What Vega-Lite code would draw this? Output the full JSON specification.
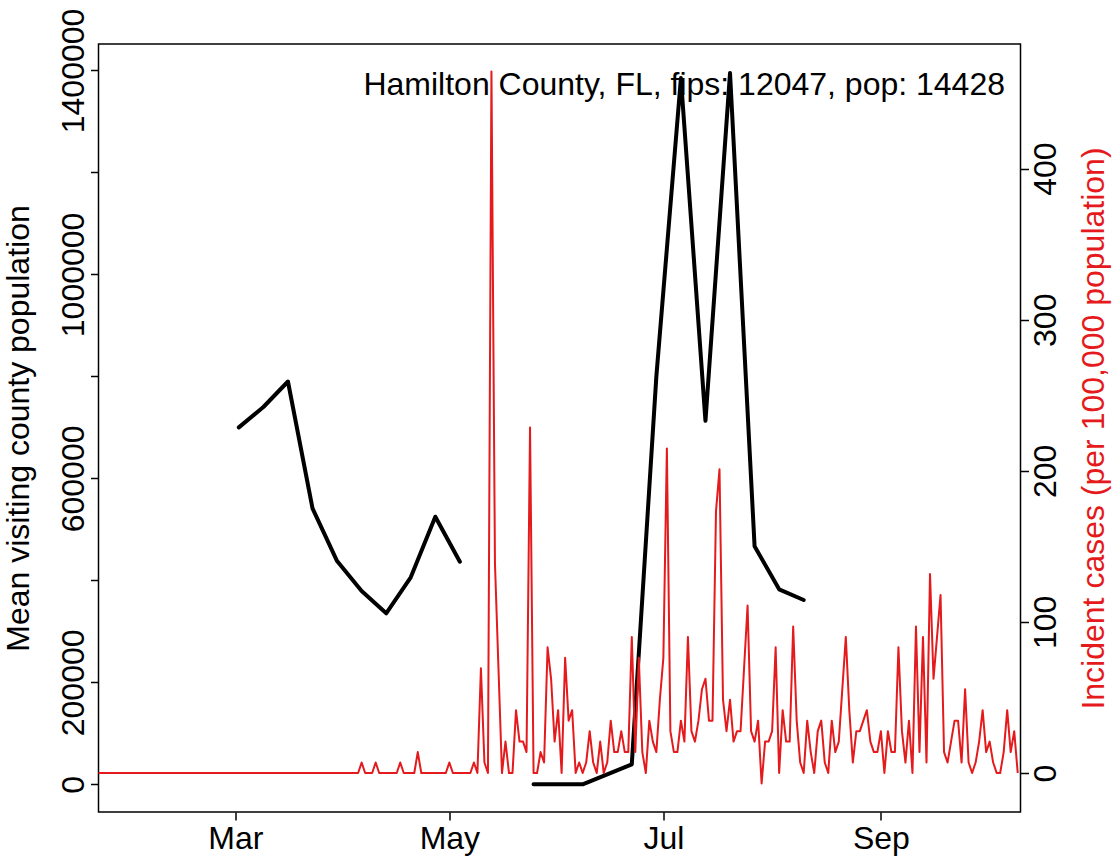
{
  "$schema": "https://vega.github.io/schema/vega-lite/v6.json",
  "width": 922,
  "height": 768,
  "autosize": {"type": "none"},
  "padding": {"left": 98.5, "top": 44, "right": 98.5, "bottom": 48},
  "background": "white",
  "config": {
    "view": {"stroke": "black", "strokeWidth": 1.5},
    "font": "Liberation Sans",
    "axis": {"labelFont": "Liberation Sans", "titleFont": "Liberation Sans", "labelFontSize": 32, "titleFontSize": 32, "titleFontWeight": "normal", "labelColor": "black", "titleColor": "black", "tickColor": "black", "tickWidth": 1.5, "tickSize": 8, "domain": false, "grid": false, "labelOverlap": false, "labelFlush": false}
  },
  "datasets": {
    "visits": [
      {"date": "2020-03-02", "visitors": 700000, "seg": 1},
      {"date": "2020-03-09", "visitors": 740000, "seg": 1},
      {"date": "2020-03-16", "visitors": 790000, "seg": 1},
      {"date": "2020-03-23", "visitors": 541300, "seg": 1},
      {"date": "2020-03-30", "visitors": 437900, "seg": 1},
      {"date": "2020-04-06", "visitors": 379100, "seg": 1},
      {"date": "2020-04-13", "visitors": 335400, "seg": 1},
      {"date": "2020-04-20", "visitors": 406000, "seg": 1},
      {"date": "2020-04-27", "visitors": 524800, "seg": 1},
      {"date": "2020-05-04", "visitors": 436600, "seg": 1},
      {"date": "2020-05-25", "visitors": 0, "seg": 2},
      {"date": "2020-06-01", "visitors": 0, "seg": 2},
      {"date": "2020-06-08", "visitors": 0, "seg": 2},
      {"date": "2020-06-22", "visitors": 39000, "seg": 2},
      {"date": "2020-06-29", "visitors": 799800, "seg": 2},
      {"date": "2020-07-06", "visitors": 1385000, "seg": 2},
      {"date": "2020-07-13", "visitors": 712900, "seg": 2},
      {"date": "2020-07-20", "visitors": 1395000, "seg": 2},
      {"date": "2020-07-27", "visitors": 466800, "seg": 2},
      {"date": "2020-08-03", "visitors": 382400, "seg": 2},
      {"date": "2020-08-10", "visitors": 361400, "seg": 2}
    ],
    "cases": [
      {"date": "2020-01-22", "inc": 0}, {"date": "2020-01-23", "inc": 0}, {"date": "2020-01-24", "inc": 0}, {"date": "2020-01-25", "inc": 0}, {"date": "2020-01-26", "inc": 0},
      {"date": "2020-01-27", "inc": 0}, {"date": "2020-01-28", "inc": 0}, {"date": "2020-01-29", "inc": 0}, {"date": "2020-01-30", "inc": 0}, {"date": "2020-01-31", "inc": 0},
      {"date": "2020-02-01", "inc": 0}, {"date": "2020-02-02", "inc": 0}, {"date": "2020-02-03", "inc": 0}, {"date": "2020-02-04", "inc": 0}, {"date": "2020-02-05", "inc": 0},
      {"date": "2020-02-06", "inc": 0}, {"date": "2020-02-07", "inc": 0}, {"date": "2020-02-08", "inc": 0}, {"date": "2020-02-09", "inc": 0}, {"date": "2020-02-10", "inc": 0},
      {"date": "2020-02-11", "inc": 0}, {"date": "2020-02-12", "inc": 0}, {"date": "2020-02-13", "inc": 0}, {"date": "2020-02-14", "inc": 0}, {"date": "2020-02-15", "inc": 0},
      {"date": "2020-02-16", "inc": 0}, {"date": "2020-02-17", "inc": 0}, {"date": "2020-02-18", "inc": 0}, {"date": "2020-02-19", "inc": 0}, {"date": "2020-02-20", "inc": 0},
      {"date": "2020-02-21", "inc": 0}, {"date": "2020-02-22", "inc": 0}, {"date": "2020-02-23", "inc": 0}, {"date": "2020-02-24", "inc": 0}, {"date": "2020-02-25", "inc": 0},
      {"date": "2020-02-26", "inc": 0}, {"date": "2020-02-27", "inc": 0}, {"date": "2020-02-28", "inc": 0}, {"date": "2020-02-29", "inc": 0},
      {"date": "2020-03-01", "inc": 0}, {"date": "2020-03-02", "inc": 0}, {"date": "2020-03-03", "inc": 0}, {"date": "2020-03-04", "inc": 0}, {"date": "2020-03-05", "inc": 0},
      {"date": "2020-03-06", "inc": 0}, {"date": "2020-03-07", "inc": 0}, {"date": "2020-03-08", "inc": 0}, {"date": "2020-03-09", "inc": 0}, {"date": "2020-03-10", "inc": 0},
      {"date": "2020-03-11", "inc": 0}, {"date": "2020-03-12", "inc": 0}, {"date": "2020-03-13", "inc": 0}, {"date": "2020-03-14", "inc": 0}, {"date": "2020-03-15", "inc": 0},
      {"date": "2020-03-16", "inc": 0}, {"date": "2020-03-17", "inc": 0}, {"date": "2020-03-18", "inc": 0}, {"date": "2020-03-19", "inc": 0}, {"date": "2020-03-20", "inc": 0},
      {"date": "2020-03-21", "inc": 0}, {"date": "2020-03-22", "inc": 0}, {"date": "2020-03-23", "inc": 0}, {"date": "2020-03-24", "inc": 0}, {"date": "2020-03-25", "inc": 0},
      {"date": "2020-03-26", "inc": 0}, {"date": "2020-03-27", "inc": 0}, {"date": "2020-03-28", "inc": 0}, {"date": "2020-03-29", "inc": 0}, {"date": "2020-03-30", "inc": 0},
      {"date": "2020-03-31", "inc": 0},
      {"date": "2020-04-01", "inc": 0}, {"date": "2020-04-02", "inc": 0}, {"date": "2020-04-03", "inc": 0}, {"date": "2020-04-04", "inc": 0}, {"date": "2020-04-05", "inc": 0},
      {"date": "2020-04-06", "inc": 6.93}, {"date": "2020-04-07", "inc": 0}, {"date": "2020-04-08", "inc": 0}, {"date": "2020-04-09", "inc": 0}, {"date": "2020-04-10", "inc": 6.93},
      {"date": "2020-04-11", "inc": 0}, {"date": "2020-04-12", "inc": 0}, {"date": "2020-04-13", "inc": 0}, {"date": "2020-04-14", "inc": 0}, {"date": "2020-04-15", "inc": 0},
      {"date": "2020-04-16", "inc": 0}, {"date": "2020-04-17", "inc": 6.93}, {"date": "2020-04-18", "inc": 0}, {"date": "2020-04-19", "inc": 0}, {"date": "2020-04-20", "inc": 0},
      {"date": "2020-04-21", "inc": 0}, {"date": "2020-04-22", "inc": 13.86}, {"date": "2020-04-23", "inc": 0}, {"date": "2020-04-24", "inc": 0}, {"date": "2020-04-25", "inc": 0},
      {"date": "2020-04-26", "inc": 0}, {"date": "2020-04-27", "inc": 0}, {"date": "2020-04-28", "inc": 0}, {"date": "2020-04-29", "inc": 0}, {"date": "2020-04-30", "inc": 0},
      {"date": "2020-05-01", "inc": 6.93}, {"date": "2020-05-02", "inc": 0}, {"date": "2020-05-03", "inc": 0}, {"date": "2020-05-04", "inc": 0}, {"date": "2020-05-05", "inc": 0},
      {"date": "2020-05-06", "inc": 0}, {"date": "2020-05-07", "inc": 0}, {"date": "2020-05-08", "inc": 6.93}, {"date": "2020-05-09", "inc": 0}, {"date": "2020-05-10", "inc": 69.31},
      {"date": "2020-05-11", "inc": 6.93}, {"date": "2020-05-12", "inc": 0}, {"date": "2020-05-13", "inc": 464.38}, {"date": "2020-05-14", "inc": 138.62}, {"date": "2020-05-15", "inc": 69.31},
      {"date": "2020-05-16", "inc": 0}, {"date": "2020-05-17", "inc": 20.79}, {"date": "2020-05-18", "inc": 0}, {"date": "2020-05-19", "inc": 0}, {"date": "2020-05-20", "inc": 41.59},
      {"date": "2020-05-21", "inc": 20.79}, {"date": "2020-05-22", "inc": 20.79}, {"date": "2020-05-23", "inc": 13.86}, {"date": "2020-05-24", "inc": 228.72}, {"date": "2020-05-25", "inc": 0},
      {"date": "2020-05-26", "inc": 0}, {"date": "2020-05-27", "inc": 13.86}, {"date": "2020-05-28", "inc": 6.93}, {"date": "2020-05-29", "inc": 83.17}, {"date": "2020-05-30", "inc": 62.38},
      {"date": "2020-05-31", "inc": 20.79},
      {"date": "2020-06-01", "inc": 41.59}, {"date": "2020-06-02", "inc": 0}, {"date": "2020-06-03", "inc": 76.24}, {"date": "2020-06-04", "inc": 34.66}, {"date": "2020-06-05", "inc": 41.59},
      {"date": "2020-06-06", "inc": 0}, {"date": "2020-06-07", "inc": 6.93}, {"date": "2020-06-08", "inc": 0}, {"date": "2020-06-09", "inc": 6.93}, {"date": "2020-06-10", "inc": 27.72},
      {"date": "2020-06-11", "inc": 6.93}, {"date": "2020-06-12", "inc": 0}, {"date": "2020-06-13", "inc": 20.79}, {"date": "2020-06-14", "inc": 0}, {"date": "2020-06-15", "inc": 6.93},
      {"date": "2020-06-16", "inc": 34.66}, {"date": "2020-06-17", "inc": 13.86}, {"date": "2020-06-18", "inc": 13.86}, {"date": "2020-06-19", "inc": 27.72}, {"date": "2020-06-20", "inc": 13.86},
      {"date": "2020-06-21", "inc": 13.86}, {"date": "2020-06-22", "inc": 90.1}, {"date": "2020-06-23", "inc": 13.86}, {"date": "2020-06-24", "inc": 76.24}, {"date": "2020-06-25", "inc": 13.86},
      {"date": "2020-06-26", "inc": 0}, {"date": "2020-06-27", "inc": 34.66}, {"date": "2020-06-28", "inc": 20.79}, {"date": "2020-06-29", "inc": 13.86}, {"date": "2020-06-30", "inc": 48.52},
      {"date": "2020-07-01", "inc": 76.24}, {"date": "2020-07-02", "inc": 214.86}, {"date": "2020-07-03", "inc": 27.72}, {"date": "2020-07-04", "inc": 13.86}, {"date": "2020-07-05", "inc": 13.86},
      {"date": "2020-07-06", "inc": 34.66}, {"date": "2020-07-07", "inc": 20.79}, {"date": "2020-07-08", "inc": 90.1}, {"date": "2020-07-09", "inc": 27.72}, {"date": "2020-07-10", "inc": 20.79},
      {"date": "2020-07-11", "inc": 34.66}, {"date": "2020-07-12", "inc": 55.45}, {"date": "2020-07-13", "inc": 62.38}, {"date": "2020-07-14", "inc": 34.66}, {"date": "2020-07-15", "inc": 34.66},
      {"date": "2020-07-16", "inc": 173.27}, {"date": "2020-07-17", "inc": 201.0}, {"date": "2020-07-18", "inc": 48.52}, {"date": "2020-07-19", "inc": 27.72}, {"date": "2020-07-20", "inc": 48.52},
      {"date": "2020-07-21", "inc": 20.79}, {"date": "2020-07-22", "inc": 27.72}, {"date": "2020-07-23", "inc": 27.72}, {"date": "2020-07-24", "inc": 69.31}, {"date": "2020-07-25", "inc": 110.9},
      {"date": "2020-07-26", "inc": 27.72}, {"date": "2020-07-27", "inc": 20.79}, {"date": "2020-07-28", "inc": 34.66}, {"date": "2020-07-29", "inc": -6.93}, {"date": "2020-07-30", "inc": 20.79},
      {"date": "2020-07-31", "inc": 20.79},
      {"date": "2020-08-01", "inc": 27.72}, {"date": "2020-08-02", "inc": 83.17}, {"date": "2020-08-03", "inc": 0}, {"date": "2020-08-04", "inc": 41.59}, {"date": "2020-08-05", "inc": 20.79},
      {"date": "2020-08-06", "inc": 20.79}, {"date": "2020-08-07", "inc": 97.03}, {"date": "2020-08-08", "inc": 34.66}, {"date": "2020-08-09", "inc": 6.93}, {"date": "2020-08-10", "inc": 0},
      {"date": "2020-08-11", "inc": 34.66}, {"date": "2020-08-12", "inc": 13.86}, {"date": "2020-08-13", "inc": 0}, {"date": "2020-08-14", "inc": 27.72}, {"date": "2020-08-15", "inc": 34.66},
      {"date": "2020-08-16", "inc": 6.93}, {"date": "2020-08-17", "inc": 0}, {"date": "2020-08-18", "inc": 34.66}, {"date": "2020-08-19", "inc": 13.86}, {"date": "2020-08-20", "inc": 20.79},
      {"date": "2020-08-21", "inc": 55.45}, {"date": "2020-08-22", "inc": 90.1}, {"date": "2020-08-23", "inc": 41.59}, {"date": "2020-08-24", "inc": 6.93}, {"date": "2020-08-25", "inc": 27.72},
      {"date": "2020-08-26", "inc": 27.72}, {"date": "2020-08-27", "inc": 34.66}, {"date": "2020-08-28", "inc": 41.59}, {"date": "2020-08-29", "inc": 20.79}, {"date": "2020-08-30", "inc": 13.86},
      {"date": "2020-08-31", "inc": 13.86},
      {"date": "2020-09-01", "inc": 27.72}, {"date": "2020-09-02", "inc": 0}, {"date": "2020-09-03", "inc": 27.72}, {"date": "2020-09-04", "inc": 13.86}, {"date": "2020-09-05", "inc": 13.86},
      {"date": "2020-09-06", "inc": 83.17}, {"date": "2020-09-07", "inc": 27.72}, {"date": "2020-09-08", "inc": 6.93}, {"date": "2020-09-09", "inc": 34.66}, {"date": "2020-09-10", "inc": 0},
      {"date": "2020-09-11", "inc": 97.03}, {"date": "2020-09-12", "inc": 13.86}, {"date": "2020-09-13", "inc": 90.1}, {"date": "2020-09-14", "inc": 6.93}, {"date": "2020-09-15", "inc": 131.69},
      {"date": "2020-09-16", "inc": 62.38}, {"date": "2020-09-17", "inc": 90.1}, {"date": "2020-09-18", "inc": 117.83}, {"date": "2020-09-19", "inc": 13.86}, {"date": "2020-09-20", "inc": 6.93},
      {"date": "2020-09-21", "inc": 20.79}, {"date": "2020-09-22", "inc": 34.66}, {"date": "2020-09-23", "inc": 34.66}, {"date": "2020-09-24", "inc": 6.93}, {"date": "2020-09-25", "inc": 55.45},
      {"date": "2020-09-26", "inc": 6.93}, {"date": "2020-09-27", "inc": 0}, {"date": "2020-09-28", "inc": 6.93}, {"date": "2020-09-29", "inc": 20.79}, {"date": "2020-09-30", "inc": 41.59},
      {"date": "2020-10-01", "inc": 13.86}, {"date": "2020-10-02", "inc": 20.79}, {"date": "2020-10-03", "inc": 6.93}, {"date": "2020-10-04", "inc": 0}, {"date": "2020-10-05", "inc": 0},
      {"date": "2020-10-06", "inc": 13.86}, {"date": "2020-10-07", "inc": 41.59}, {"date": "2020-10-08", "inc": 13.86}, {"date": "2020-10-09", "inc": 27.72}, {"date": "2020-10-10", "inc": 0}
    ]
  },
  "layer": [
    {
      "layer": [
        {
          "data": {"name": "visits"},
          "mark": {"type": "line", "color": "black", "strokeWidth": 4, "strokeJoin": "round", "strokeCap": "round"},
          "encoding": {
            "x": {"field": "date", "type": "temporal",
              "scale": {"type": "utc", "domain": [{"year": 2020, "month": 1, "date": 22, "utc": true}, {"year": 2020, "month": 10, "date": 10, "hours": 19, "utc": true}]},
              "axis": {"title": null, "orient": "bottom", "values": [{"year": 2020, "month": 3, "date": 1, "utc": true}, {"year": 2020, "month": 5, "date": 1, "utc": true}, {"year": 2020, "month": 7, "date": 1, "utc": true}, {"year": 2020, "month": 9, "date": 1, "utc": true}], "format": "%b", "labelAngle": 0, "labelAlign": "center", "labelBaseline": "top", "labelPadding": 3}},
            "y": {"field": "visitors", "type": "quantitative",
              "scale": {"domain": [-54300, 1451900], "nice": false, "zero": false},
              "axis": {"orient": "left", "title": "Mean visiting county population", "values": [0, 200000, 400000, 600000, 800000, 1000000, 1200000, 1400000],
                "labelExpr": "datum.value == 400000 || datum.value == 800000 || datum.value == 1200000 ? '' : format(datum.value, 'd')",
                "labelAngle": -90, "labelAlign": "center", "labelBaseline": "alphabetic", "labelPadding": 7,
                "titleAngle": -90, "titleAlign": "center", "titleBaseline": "alphabetic", "titleX": -70, "titleY": 384}},
            "detail": {"field": "seg", "type": "nominal"}
          }
        },
        {
          "data": {"values": [{"label": "Hamilton County, FL, fips: 12047, pop: 14428"}]},
          "mark": {"type": "text", "align": "right", "baseline": "alphabetic", "fontSize": 32, "font": "Liberation Sans", "color": "black"},
          "encoding": {
            "x": {"datum": {"year": 2020, "month": 10, "date": 6, "hours": 9, "utc": true}, "type": "temporal"},
            "y": {"datum": 1352000, "type": "quantitative"},
            "text": {"field": "label", "type": "nominal"}
          }
        }
      ]
    },
    {
      "data": {"name": "cases"},
      "mark": {"type": "line", "color": "#E41A1C", "strokeWidth": 2, "strokeJoin": "round"},
      "encoding": {
        "x": {"field": "date", "type": "temporal"},
        "y": {"field": "inc", "type": "quantitative",
          "scale": {"domain": [-25.8, 482.5], "nice": false, "zero": false},
          "axis": {"orient": "right", "title": "Incident cases (per 100,000 population)", "titleColor": "#E41A1C", "values": [0, 100, 200, 300, 400],
            "labelAngle": -90, "labelAlign": "center", "labelBaseline": "top", "labelPadding": 2,
            "titleAngle": -90, "titleAlign": "center", "titleBaseline": "alphabetic", "titleX": 83, "titleY": 384}}
      }
    }
  ],
  "resolve": {"scale": {"y": "independent"}}
}
